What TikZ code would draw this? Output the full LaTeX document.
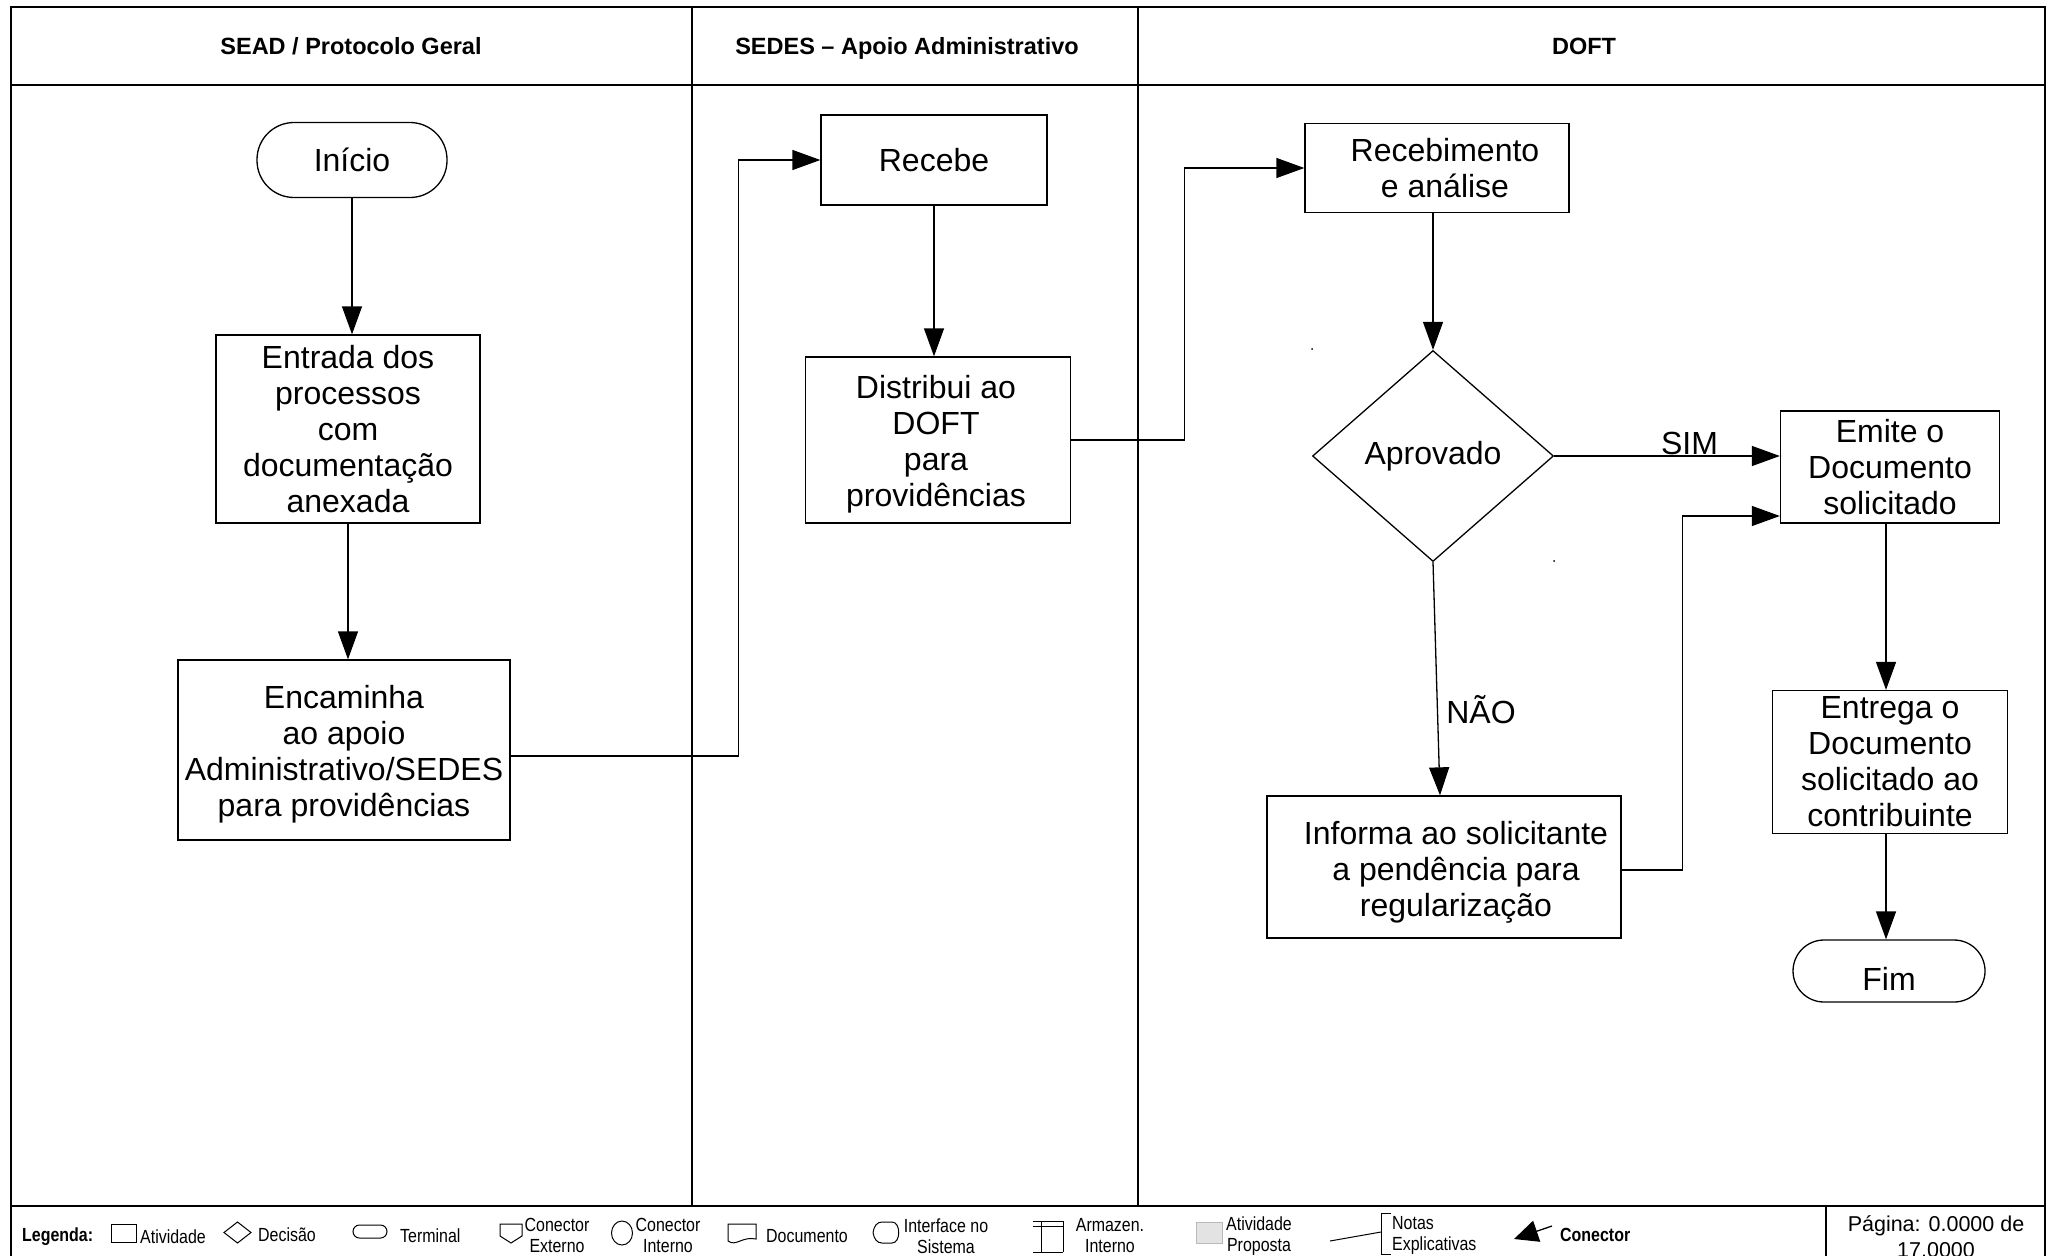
\documentclass[tikz,border=0pt]{standalone}
\usepackage{fontspec}
\setmainfont{Liberation Sans}
\newfontfamily\narrowfont[FakeStretch=0.84]{Liberation Sans}
\usetikzlibrary{arrows.meta,shapes.geometric}
\begin{document}
\begin{tikzpicture}[x=1pt,y=-1pt,
  frame/.style={line width=2.4pt},
  stepbox/.style={draw, line width=1.3pt, inner sep=0pt, align=center, font=\fontsize{32}{36}\selectfont},
  termbox/.style={stepbox},
  decbox/.style={draw, diamond, line width=1.3pt, inner sep=0pt, align=center, font=\fontsize{32}{36}\selectfont},
  conn/.style={line width=1.3pt, -{Triangle[length=28pt,width=20pt]}},
  lbl/.style={font=\fontsize{32}{36}\selectfont, inner sep=0pt, align=center},
  headtxt/.style={font=\fontsize{23.5}{28}\selectfont\bfseries, anchor=base},
  legtxt/.style={font=\narrowfont\fontsize{19}{21}\selectfont, inner sep=0pt, align=center},
  legsym/.style={line width=1pt},
]
\useasboundingbox (0,0) rectangle (2052,1255);
\clip (0,0) rectangle (2052,1255);
\fill[white] (0,0) rectangle (2052,1255);

% frame and lanes
\draw[frame] (11,1260) -- (11,7) -- (2045,7) -- (2045,1260);
\draw[frame] (11,85) -- (2045,85);
\draw[frame] (692,7) -- (692,1206);
\draw[frame] (1138,7) -- (1138,1206);
\draw[frame] (11,1206) -- (2045,1206);
\draw[frame] (1826,1206) -- (1826,1260);

% headers
\node[headtxt] (h1) at (351,54.5) {SEAD / Protocolo Geral};
\node[headtxt] (h2) at (907,54.5) {SEDES -- Apoio Administrativo};
\node[headtxt] (h3) at (1584,54.5) {DOFT};

% nodes
\node[termbox, minimum width=190pt, minimum height=75pt, rounded corners=37pt] (inicio) at (352,160) {Início};
\node[stepbox, minimum width=264pt, minimum height=188pt] (entrada) at (348,429) {Entrada dos\\processos\\com\\documentação\\anexada};
\node[stepbox, minimum width=332pt, minimum height=180pt] (encaminha) at (344,750) {};
\node[lbl] (encaminhaT) at (344,754) {Encaminha\\ao apoio\\Administrativo/SEDES\\para providências};
\node[stepbox, minimum width=226pt, minimum height=90pt] (recebe) at (934,160) {Recebe};
\node[stepbox, minimum width=265pt, minimum height=166pt] (distribui) at (938,440) {};
\node[lbl] (distribuiT) at (936,444) {Distribui ao\\DOFT\\para\\providências};
\node[stepbox, minimum width=264pt, minimum height=89pt] (receb) at (1437,168) {};
\node[lbl] (recebT) at (1445,168) {Recebimento\\e análise};
\node[decbox, minimum width=241pt, minimum height=211pt] (aprovado) at (1433,456) {Aprovado};
\node[stepbox, minimum width=219pt, minimum height=112pt] (emite) at (1890,467) {Emite o\\Documento\\solicitado};
\node[stepbox, minimum width=235pt, minimum height=143pt] (entrega) at (1890,762) {Entrega o\\Documento\\solicitado ao\\contribuinte};
\node[termbox, minimum width=192pt, minimum height=62pt, rounded corners=31pt, text height=38pt, text depth=0pt] (fim) at (1889,971) {Fim};
\node[stepbox, minimum width=354pt, minimum height=142pt] (informa) at (1444,867) {};
\node[lbl] (informaT) at (1456,872) {Informa ao solicitante\\a pendência para\\regularização};

% stray dots
\fill (1312,349) circle (1pt);
\fill (1554,561) circle (1pt);

% connectors
\draw[conn] (inicio.south) -- (inicio.south |- entrada.north);
\draw[conn] (entrada.south) -- (entrada.south |- encaminha.north);
\draw[conn] ([yshift=-6pt]encaminha.east) -- ++(228,0) |- (recebe.west);
\draw[conn] (recebe.south) -- (recebe.south |- distribui.north);
\draw[conn] (distribui.east) -- ++(113,0) |- (receb.west);
\draw[conn] (receb.south -| aprovado.north) -- (aprovado.north);
\draw[conn] (aprovado.east) -- (aprovado.east -| emite.west)
  node[lbl, pos=0.6, above=1pt] (sim) {SIM};
\draw[conn] (aprovado.south) -- ([xshift=-4pt]informa.north);
\node[lbl] (nao) at (1481,710) {NÃO};
\draw[conn] ([yshift=-3pt]informa.east) -- ++(61,0) |- ([yshift=-49pt]emite.west);
\draw[conn] ([xshift=-4pt]emite.south) -- ([xshift=-4pt]emite.south |- entrega.north);
\draw[conn] ([xshift=-4pt]entrega.south) -- ([xshift=-4pt]entrega.south |- fim.north);

% legend
\node[legtxt, font=\narrowfont\fontsize{19}{21}\selectfont\bfseries, anchor=west] (lg) at (22,1237) {Legenda:};
\draw[legsym] (111,1224) rectangle (136,1242);
\node[legtxt, anchor=west] (l1) at (140,1237) {Atividade};
\draw[legsym] (224,1232.5) -- (237.5,1222) -- (251,1232.5) -- (237.5,1243) -- cycle;
\node[legtxt, anchor=west] (l2) at (258,1235) {Decisão};
\draw[legsym, rounded corners=6.5pt] (353,1225) rectangle (387,1238);
\node[legtxt, anchor=west] (l3) at (400,1236) {Terminal};
\draw[legsym] (500,1224) -- (522,1224) -- (522,1236) -- (511,1243) -- (500,1236) -- cycle;
\node[legtxt] (l4) at (557,1235.5) {Conector\\Externo};
\draw[legsym] (622,1233) ellipse (10.5pt and 12pt);
\node[legtxt] (l5) at (668,1235.5) {Conector\\Interno};
\draw[legsym] (728,1241) .. controls (736,1247) and (742,1236) .. (756,1239) -- (756,1224) -- (728,1224) -- cycle;
\node[legtxt, anchor=west] (l6) at (766,1236) {Documento};
\draw[legsym] (873,1232.5) .. controls (874,1226) and (877,1222) .. (882,1222) -- (892,1222) .. controls (901,1222) and (901,1243) .. (892,1243) -- (882,1243) .. controls (877,1243) and (874,1239) .. (873,1232.5);
\node[legtxt] (l7) at (946,1236) {Interface no\\Sistema};
\draw[legsym] (1033,1221) -- (1063,1221);
\draw[legsym] (1033,1226) -- (1063,1226);
\draw[legsym] (1033,1252) -- (1063,1252);
\draw[legsym] (1041,1221) -- (1041,1252);
\draw[legsym] (1063,1221) -- (1063,1252);
\node[legtxt] (l8) at (1110,1236) {Armazen.\\Interno};
\draw[legsym, draw=gray!55, fill=gray!22] (1196,1222) rectangle (1222,1243);
\node[legtxt] (l9) at (1259,1236) {Atividade\\Proposta};
\draw[legsym] (1330,1241) -- (1381,1232);
\draw[legsym] (1391,1213) -- (1381,1213) -- (1381,1254) -- (1391,1254);
\node[legtxt, anchor=west, align=left] (l10) at (1392,1235.5) {Notas\\Explicativas};
\coordinate (cs) at (1552,1226);
\coordinate (ce) at (1514,1239);
\draw[legsym, line width=1.3pt, -{Triangle[length=24pt,width=22pt]}] (cs) -- (ce);
\node[legtxt, font=\narrowfont\fontsize{19}{21}\selectfont\bfseries, anchor=west] (l11) at (1560,1235) {Conector};
\node[legtxt, font=\fontsize{21.5}{26}\selectfont] (pg) at (1936,1236.5) {Página: 0.0000 de\\17.0000};
\end{tikzpicture}
\end{document}
